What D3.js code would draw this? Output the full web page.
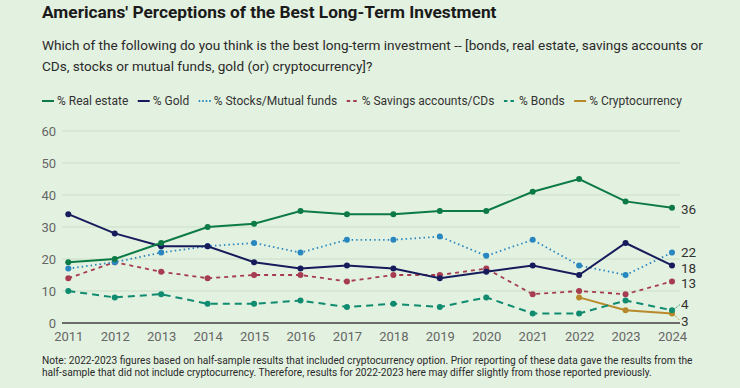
<!DOCTYPE html>
<html><head><meta charset="utf-8">
<script src="https://cdn.jsdelivr.net/npm/d3@7"></script>
<style>
html,body{margin:0;padding:0;background:#e3f1e0;}
svg{display:block;font-family:Roboto,"Liberation Sans",sans-serif;}
</style></head><body>
<svg id="c" width="740" height="388"></svg>
<script>
const years = [2011,2012,2013,2014,2015,2016,2017,2018,2019,2020,2021,2022,2023,2024];
const realEstate = [19,20,25,30,31,35,34,34,35,35,41,45,38,36];
const gold = [34,28,24,24,19,17,18,17,14,16,18,15,25,18];
const stocks = [17,19,22,24,25,22,26,26,27,21,26,18,15,22];
const savings = [14,19,16,14,15,15,13,15,15,17,9,10,9,13];
const bonds = [10,8,9,6,6,7,5,6,5,8,3,3,7,4];
const cryptoYears = [2022,2023,2024];
const crypto = [8,4,3];
const yTicks = [0,10,20,30,40,50,60];
const seriesNames = ["% Real estate","% Gold","% Stocks/Mutual funds","% Savings accounts/CDs","% Bonds","% Cryptocurrency"];

const title = "Americans' Perceptions of the Best Long-Term Investment";
const subtitle = ["Which of the following do you think is the best long-term investment -- [bonds, real estate, savings accounts or",
  "CDs, stocks or mutual funds, gold (or) cryptocurrency]?"];
const note = ["Note: 2022-2023 figures based on half-sample results that included cryptocurrency option. Prior reporting of these data gave the results from the",
  "half-sample that did not include cryptocurrency. Therefore, results for 2022-2023 here may differ slightly from those reported previously."];

const styles = [
  {color:"#0c7a45", dash:null, w:2},
  {color:"#161b5b", dash:null, w:2},
  {color:"#2987c0", dash:"1.5,3", w:1.8},
  {color:"#a63c50", dash:"4,4", w:1.8},
  {color:"#0f8b70", dash:"7,5", w:2},
  {color:"#b8892a", dash:null, w:2}
];
const series = [
  {x:years, y:realEstate},{x:years, y:gold},{x:years, y:stocks},
  {x:years, y:savings},{x:years, y:bonds},{x:cryptoYears, y:crypto}
];

const svg = d3.select("#c");
const x = d3.scalePoint().domain(years).range([68.3, 672]);
const y = d3.scaleLinear().domain([0,60]).range([323, 131]);

// fit text to a target width by adjusting font size
function fitText(sel, target, maxSize){
  const w = sel.node().getComputedTextLength();
  const fs = Math.min(maxSize, parseFloat(sel.attr("font-size")) * target / w);
  sel.attr("font-size", fs.toFixed(2));
  return sel;
}

// title
fitText(svg.append("text").attr("x",42).attr("y",18).attr("font-size",18).attr("font-weight",700)
  .attr("fill","#1a1a1a").text(title), 455, 19);
const subL = [661, 376];
const subSel = subtitle.map((s,i)=> svg.append("text").attr("x",42).attr("y",50+i*20.5)
  .attr("font-size",15).attr("fill","#2a2a2a").text(s));
fitText(subSel[0], subL[0], 15.5);
subSel[1].attr("font-size", subSel[0].attr("font-size"));

// legend
let lx = 42;
const lg = svg.append("g");
seriesNames.forEach((n,i)=>{
  const st = styles[i];
  lg.append("line").attr("x1",lx).attr("x2",lx+12).attr("y1",101).attr("y2",101)
    .attr("stroke",st.color).attr("stroke-width",2).attr("stroke-dasharray", st.dash? (i==2?"1.5,2":"3.5,3"):null);
  const t = lg.append("text").attr("x",lx+15).attr("y",105).attr("font-size",12).attr("fill","#333").text(n);
  lx += 15 + t.node().getComputedTextLength() + 9.5;
});

// grid
const grid = svg.append("g");
yTicks.forEach(v=>{
  if(v>0) grid.append("line").attr("x1",62).attr("x2",680).attr("y1",y(v)).attr("y2",y(v))
    .attr("stroke","#cadfc7").attr("stroke-width",1);
  grid.append("text").attr("x",56).attr("y",y(v)+4.5).attr("text-anchor","end")
    .attr("font-size",13).attr("fill","#666").text(v);
});
svg.append("line").attr("x1",62).attr("x2",680).attr("y1",y(0)).attr("y2",y(0))
  .attr("stroke","#6b6b6b").attr("stroke-width",2);

// x axis
const xa = svg.append("g").attr("transform",`translate(0,${y(0)})`)
  .call(d3.axisBottom(x).tickSize(0).tickPadding(9));
xa.select(".domain").remove();
xa.selectAll("text").attr("font-size",13).attr("fill","#666").attr("font-family","Roboto,sans-serif");

const order = [5,4,3,2,1,0];
order.forEach(i=>{
  const s = series[i], st = styles[i];
  const pts = s.x.map((xx,j)=>[xx,s.y[j]]);
  svg.append("path").datum(pts)
    .attr("d", d3.line().x(d=>x(d[0])).y(d=>y(d[1])))
    .attr("fill","none").attr("stroke",st.color).attr("stroke-width",st.w)
    .attr("stroke-dasharray",st.dash);
  svg.append("g").selectAll("circle").data(pts).join("circle")
    .attr("cx",d=>x(d[0])).attr("cy",d=>y(d[1])).attr("r",3).attr("fill",st.color);
});

// end labels
const endLabels = [
  {i:0, dy:1.5, lead:false},{i:2, dy:0, lead:false},{i:1, dy:2.3, lead:false},{i:3, dy:2, lead:false},
  {i:4, dy:-5.7, lead:true},{i:5, dy:7.3, lead:true}
];
endLabels.forEach(e=>{
  const s = series[e.i];
  const v = s.y[s.y.length-1];
  const px = x(2024), py = y(v);
  if(e.lead){
    svg.append("line").attr("x1",px+1).attr("y1",py).attr("x2",px+8).attr("y2",py+e.dy)
      .attr("stroke",styles[e.i].color).attr("stroke-width",1).attr("stroke-dasharray","1,1");
  }
  svg.append("text").attr("x",px+9).attr("y",py+e.dy+4.8).attr("font-size",13.5).attr("fill","#333").text(v);
});

// note
const noteSel = note.map((s,i)=> svg.append("text").attr("x",42).attr("y",364+i*11.5)
  .attr("font-size",11).attr("fill","#2a2a2a").text(s));
fitText(noteSel[0], 651, 11.5);
noteSel[1].attr("font-size", noteSel[0].attr("font-size"));
</script>
</body></html>
